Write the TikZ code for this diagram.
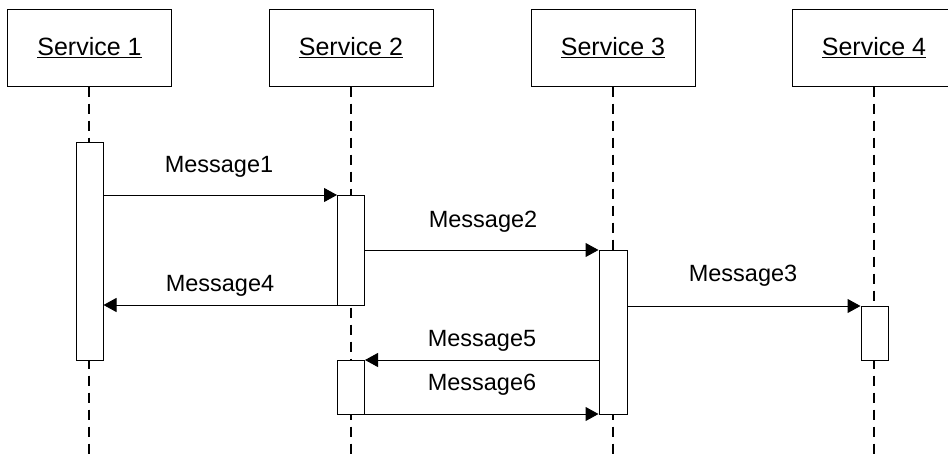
\documentclass[tikz,border=0pt]{standalone}
\usepackage{fontspec}
\setmainfont{Liberation Sans}
\usetikzlibrary{arrows.meta}
\tikzset{
  x=1pt, y=-1pt,
  svc/.style={draw, line width=1pt, fill=white, minimum width=164pt, minimum height=77pt, inner sep=0pt, font=\fontsize{25}{28}\selectfont},
  act/.style={draw, line width=1pt, fill=white},
  life/.style={line width=1.8pt, dash pattern=on 10pt off 7pt},
  msg/.style={line width=1pt, -{Triangle[length=13pt,width=14pt]}},
  lbl/.style={font=\fontsize{23.5}{26}\selectfont, inner sep=0pt, anchor=base}
}
\begin{document}
\begin{tikzpicture}
\useasboundingbox (0,0) rectangle (948,455);
\clip (0,0) rectangle (948,455);
\fill[white] (0,0) rectangle (948,455);
% service boxes
\node[svc] (s1) at (89.5,47.5) {\underline{Service 1}};
\node[svc] (s2) at (351,47.5) {\underline{Service 2}};
\node[svc] (s3) at (613,47.5) {\underline{Service 3}};
\node[svc] (s4) at (874,47.5) {\underline{Service 4}};
% lifeline ends
\coordinate (e1) at (89,455);
\coordinate (e2) at (351,455);
\coordinate (e3) at (613,455);
\coordinate (e4) at (874,455);
\draw[life] (e1 |- s1.south) -- (e1);
\draw[life] (s2.south) -- (e2);
\draw[life] (s3.south) -- (e3);
\draw[life] (s4.south) -- (e4);
% activation boxes
\node[act, minimum width=27pt, minimum height=218pt, inner sep=0pt] (a1) at (89.5,251) {};
\node[act, minimum width=27pt, minimum height=110pt, inner sep=0pt] (a2) at (351,250) {};
\node[act, minimum width=28pt, minimum height=164pt, inner sep=0pt] (a3) at (613,332) {};
\node[act, minimum width=27pt, minimum height=54pt, inner sep=0pt] (a4) at (874.5,333) {};
\node[act, minimum width=27pt, minimum height=54pt, inner sep=0pt] (a5) at (351,387) {};
% messages
\draw[msg] (a1.east |- 0,195) -- (a2.west |- 0,195);
\draw[msg] (a2.east |- 0,250) -- (a3.west |- 0,250);
\draw[msg] (a3.east |- 0,306) -- (a4.west |- 0,306);
\draw[msg] (a2.west |- 0,305) -- (a1.east |- 0,305);
\draw[msg] (a3.west |- 0,360) -- (a5.east |- 0,360);
\draw[msg] (a5.east |- 0,414) -- (a3.west |- 0,414);
% labels
\node[lbl] (m1) at (219,172) {Message1};
\node[lbl] (m2) at (483,227) {Message2};
\node[lbl] (m3) at (743,281) {Message3};
\node[lbl] (m4) at (220,291) {Message4};
\node[lbl] (m5) at (482,346) {Message5};
\node[lbl] (m6) at (482,390) {Message6};
\end{tikzpicture}
\end{document}
